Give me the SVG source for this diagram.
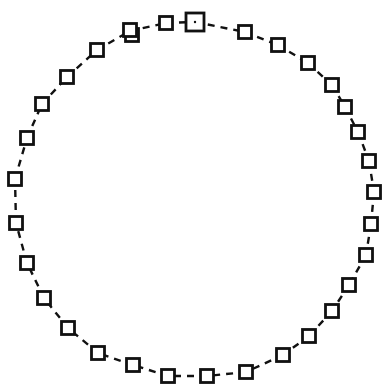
<svg xmlns="http://www.w3.org/2000/svg" width="384" height="388" viewBox="0 0 384 388">
<style>
.n rect{fill:#fff;stroke:#111;stroke-width:2.8}
.c line{stroke:#111;stroke-width:2.4;stroke-dasharray:7 6}
</style>
<rect width="384" height="388" fill="#fff"/>
<g class="c">
<line x1="195" y1="22" x2="245" y2="32"/>
<line x1="245" y1="32" x2="278" y2="45"/>
<line x1="278" y1="45" x2="308" y2="63"/>
<line x1="308" y1="63" x2="332" y2="85"/>
<line x1="332" y1="85" x2="345" y2="107"/>
<line x1="345" y1="107" x2="358" y2="132"/>
<line x1="358" y1="132" x2="369" y2="161"/>
<line x1="369" y1="161" x2="374" y2="192"/>
<line x1="374" y1="192" x2="371" y2="224"/>
<line x1="371" y1="224" x2="366" y2="255"/>
<line x1="366" y1="255" x2="349" y2="285"/>
<line x1="349" y1="285" x2="332" y2="311"/>
<line x1="332" y1="311" x2="309" y2="336"/>
<line x1="309" y1="336" x2="283" y2="355"/>
<line x1="283" y1="355" x2="246" y2="372"/>
<line x1="246" y1="372" x2="207" y2="376"/>
<line x1="207" y1="376" x2="168" y2="376"/>
<line x1="168" y1="376" x2="133" y2="365"/>
<line x1="133" y1="365" x2="98" y2="353"/>
<line x1="98" y1="353" x2="68" y2="328"/>
<line x1="68" y1="328" x2="44" y2="298"/>
<line x1="44" y1="298" x2="27" y2="263"/>
<line x1="27" y1="263" x2="16" y2="223"/>
<line x1="16" y1="223" x2="15" y2="179"/>
<line x1="15" y1="179" x2="27" y2="138"/>
<line x1="27" y1="138" x2="42" y2="104"/>
<line x1="42" y1="104" x2="67" y2="77"/>
<line x1="67" y1="77" x2="97" y2="50"/>
<line x1="97" y1="50" x2="130" y2="31"/>
<line x1="130" y1="31" x2="166" y2="23"/>
<line x1="166" y1="23" x2="195" y2="22"/>
</g>
<g class="n">
<g id="n1"><rect x="186" y="13" width="18" height="18"/><circle cx="195" cy="22" r="1.2" fill="#111"/></g>
<g id="n2"><rect x="238.5" y="25.5" width="13" height="13"/></g>
<g id="n3"><rect x="271.5" y="38.5" width="13" height="13"/></g>
<g id="n4"><rect x="301.5" y="56.5" width="13" height="13"/></g>
<g id="n5"><rect x="325.5" y="78.5" width="13" height="13"/></g>
<g id="n6"><rect x="338.5" y="100.5" width="13" height="13"/></g>
<g id="n7"><rect x="351.5" y="125.5" width="13" height="13"/></g>
<g id="n8"><rect x="362.5" y="154.5" width="13" height="13"/></g>
<g id="n9"><rect x="367.5" y="185.5" width="13" height="13"/></g>
<g id="n10"><rect x="364.5" y="217.5" width="13" height="13"/></g>
<g id="n11"><rect x="359.5" y="248.5" width="13" height="13"/></g>
<g id="n12"><rect x="342.5" y="278.5" width="13" height="13"/></g>
<g id="n13"><rect x="325.5" y="304.5" width="13" height="13"/></g>
<g id="n14"><rect x="302.5" y="329.5" width="13" height="13"/></g>
<g id="n15"><rect x="276.5" y="348.5" width="13" height="13"/></g>
<g id="n16"><rect x="239.5" y="365.5" width="13" height="13"/></g>
<g id="n17"><rect x="200.5" y="369.5" width="13" height="13"/></g>
<g id="n18"><rect x="161.5" y="369.5" width="13" height="13"/></g>
<g id="n19"><rect x="126.5" y="358.5" width="13" height="13"/></g>
<g id="n20"><rect x="91.5" y="346.5" width="13" height="13"/></g>
<g id="n21"><rect x="61.5" y="321.5" width="13" height="13"/></g>
<g id="n22"><rect x="37.5" y="291.5" width="13" height="13"/></g>
<g id="n23"><rect x="20.5" y="256.5" width="13" height="13"/></g>
<g id="n24"><rect x="9.5" y="216.5" width="13" height="13"/></g>
<g id="n25"><rect x="8.5" y="172.5" width="13" height="13"/></g>
<g id="n26"><rect x="20.5" y="131.5" width="13" height="13"/></g>
<g id="n27"><rect x="35.5" y="97.5" width="13" height="13"/></g>
<g id="n28"><rect x="60.5" y="70.5" width="13" height="13"/></g>
<g id="n29"><rect x="90.5" y="43.5" width="13" height="13"/></g>
<g id="n30"><rect x="125.5" y="28.5" width="13" height="13"/><rect x="123.5" y="23.5" width="13" height="13"/></g>
<g id="n31"><rect x="159.5" y="16.5" width="13" height="13"/></g>
</g>
</svg>
